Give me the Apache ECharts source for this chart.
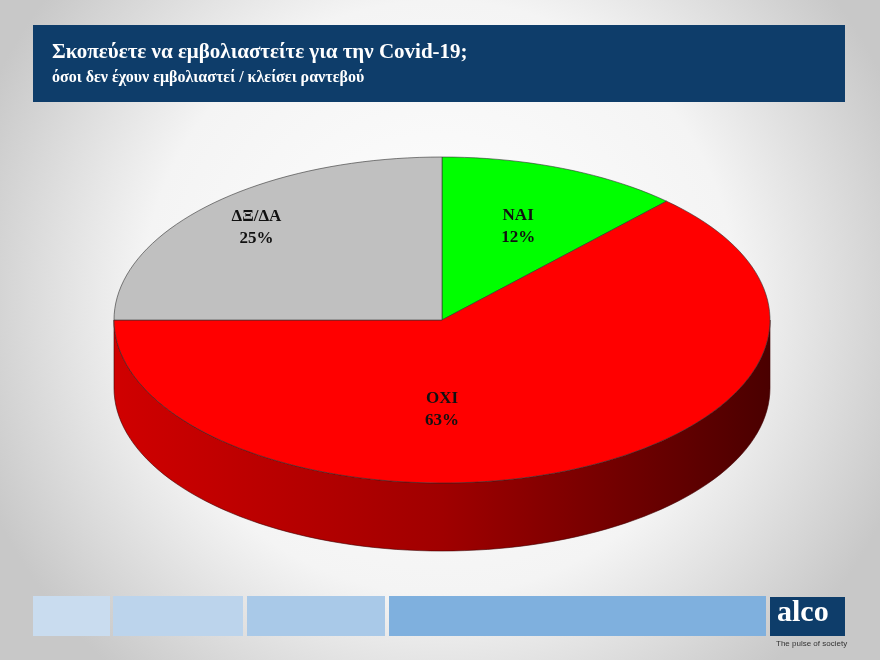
<!DOCTYPE html>
<html><head><meta charset="utf-8">
<script src="https://cdn.jsdelivr.net/npm/echarts@6/dist/echarts.min.js"></script>
<style>html,body{margin:0;padding:0}#chart{width:880px;height:660px}</style>
</head><body><div id="chart"></div>
<script>
// answers and shares (%)
var categories = ['ΝΑΙ', 'ΟΧΙ', 'ΔΞ/ΔΑ'];
var values = [12, 63, 25];
var colors = ['#00ff00', '#ff0000', '#c0c0c0'];

// geometry of the tilted pie
var cx = 442, cy = 320, rx = 328, ry = 163, depth = 68;
var labelSpot = [{a: -68, f: 0.62}, {a: 90, f: 0.55}, {a: 225, f: 0.8}];

var total = values.reduce(function (s, v) { return s + v; }, 0);
var starts = [], acc = -90;
values.forEach(function (v) { starts.push(acc); acc += v / total * 360; });

function pt(t, dy) {
  var r = t * Math.PI / 180;
  return [cx + rx * Math.cos(r), cy + ry * Math.sin(r) + (dy || 0)];
}
function arc(a0, a1, dy) {
  var pts = [], n = Math.max(2, Math.ceil(Math.abs(a1 - a0) / 2));
  for (var i = 0; i <= n; i++) pts.push(pt(a0 + (a1 - a0) * i / n, dy));
  return pts;
}

function renderItem(params, api) {
  var i = params.dataIndex;
  var a0 = starts[i], a1 = a0 + api.value(0) / total * 360;
  var children = [];
  // front side wall (visible between 0 and 180)
  var s0 = Math.max(a0, 0), s1 = Math.min(a1, 180);
  if (s1 > s0) {
    var top = arc(s0, s1, 0), bot = arc(s1, s0, depth);
    children.push({
      type: 'polygon', shape: {points: top.concat(bot)},
      style: {
        fill: new echarts.graphic.LinearGradient(0, 0, 1, 0, [
          {offset: 0, color: '#d00000'}, {offset: 0.5, color: '#a00000'}, {offset: 1, color: '#4a0000'}
        ]),
        stroke: '#400000', lineWidth: 0.6
      }
    });
  }
  var face = [[cx, cy]].concat(arc(a0, a1, 0));
  children.push({type: 'polygon', shape: {points: face},
    style: {fill: colors[i], stroke: '#333', lineWidth: 0.6}});
  var sp = labelSpot[i], r = sp.a * Math.PI / 180;
  children.push({type: 'text', style: {
    x: cx + rx * sp.f * Math.cos(r), y: cy + ry * sp.f * Math.sin(r),
    text: categories[i] + '\n' + api.value(0) + '%',
    align: 'center', verticalAlign: 'middle',
    font: 'bold 17px "Liberation Serif"', fill: '#111', lineHeight: 22
  }});
  return {type: 'group', children: children};
}

var chart = echarts.init(document.getElementById('chart'));
chart.setOption({
  backgroundColor: new echarts.graphic.RadialGradient(0.5, 0.45, 0.75, [
    {offset: 0, color: '#ffffff'}, {offset: 0.6, color: '#f4f4f4'}, {offset: 1, color: '#c8c8c8'}
  ]),
  graphic: [
    {type: 'rect', shape: {x: 33, y: 25, width: 812, height: 77}, style: {fill: '#0e3d6a'}},
    {type: 'text', left: 52, top: 42, style: {text: 'Σκοπεύετε να εμβολιαστείτε για την Covid-19;', font: 'bold 21px "Liberation Serif"', fill: '#fff'}},
    {type: 'text', left: 52, top: 70, style: {text: 'όσοι δεν έχουν εμβολιαστεί / κλείσει ραντεβού', font: 'bold 16px "Liberation Serif"', fill: '#fff'}},
    {type: 'rect', shape: {x: 33, y: 596, width: 77, height: 40}, style: {fill: '#c9dcef'}},
    {type: 'rect', shape: {x: 113, y: 596, width: 130, height: 40}, style: {fill: '#bcd4ec'}},
    {type: 'rect', shape: {x: 247, y: 596, width: 138, height: 40}, style: {fill: '#a9c9e8'}},
    {type: 'rect', shape: {x: 389, y: 596, width: 377, height: 40}, style: {fill: '#7fb0de'}},
    {type: 'rect', shape: {x: 770, y: 597, width: 75, height: 39}, style: {fill: '#0e3d6a'}},
    {type: 'text', left: 777, top: 598, style: {text: 'alco', font: 'bold 30px "Liberation Serif"', fill: '#fff'}},
    {type: 'text', left: 776, top: 640, style: {text: 'The pulse of society', font: '8px "Liberation Sans"', fill: '#333'}}
  ],
  series: [{
    type: 'custom', coordinateSystem: 'none', renderItem: renderItem,
    data: values.map(function (v, i) { return [v, i]; })
  }]
});
</script></body></html>
